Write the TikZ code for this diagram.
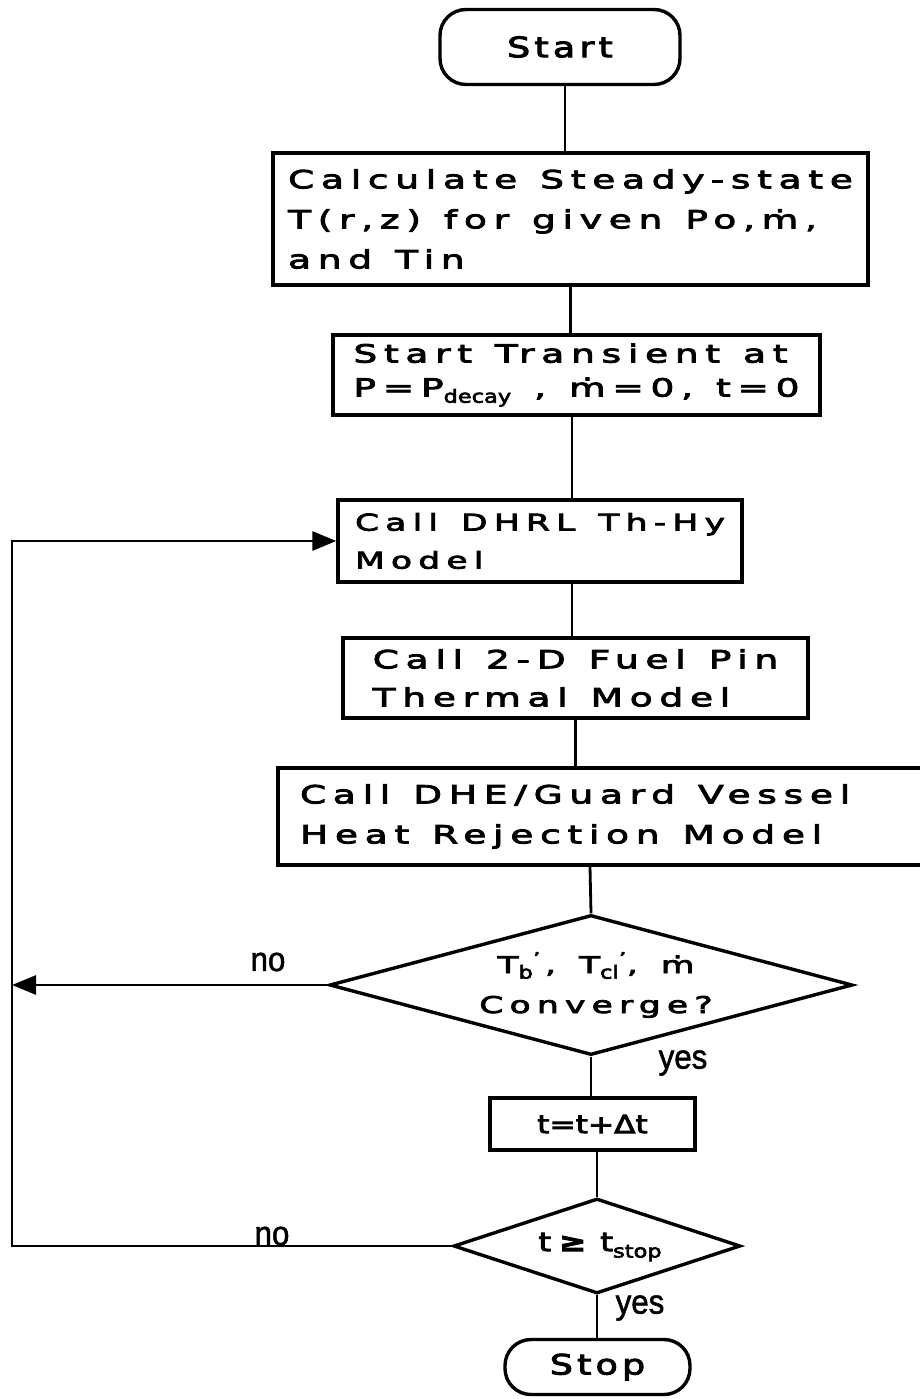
\documentclass[tikz,border=0pt]{standalone}
\usepackage{fontspec}
\setmainfont{DejaVu Sans}[FakeStretch=1.5,LetterSpace=27,FakeBold=3.5]
\newfontfamily\tightfont{DejaVu Sans}[FakeStretch=1.25,FakeBold=3.5]
\newfontfamily\termfont{DejaVu Sans}[FakeStretch=1.3,LetterSpace=15,FakeBold=3.5]
\newfontfamily\labfont{Liberation Sans}[FakeStretch=0.92,FakeBold=1.5]
\usetikzlibrary{shapes.geometric,arrows.meta}
\newcommand\lowsub[1]{\raisebox{-0.45ex}{\tightfont\fontsize{18}{18}\selectfont #1}}
\newcommand\bfont[2]{\fontsize{#1}{#2}\selectfont}
\begin{document}
\begin{tikzpicture}[x=1pt,y=-1pt,
  wsp/.style={execute at begin node={\spaceskip=23pt plus 2pt\relax}},
  box/.style={draw,line width=3.4pt,align=left,inner sep=0pt,wsp,font=\bfont{25}{40}},
  term/.style={draw,line width=3.4pt,rounded corners=26pt,inner sep=0pt,font=\termfont\fontsize{28}{30}\selectfont},
  dia/.style={draw,diamond,line width=3.4pt,inner sep=0pt},
  conn/.style={line width=2.8pt},
  arr/.style={conn,-{Triangle[length=24pt,width=19pt]}},
  lab/.style={font=\labfont\fontsize{34}{36}\selectfont},
  txt/.style={align=center,wsp,font=\bfont{23}{40}}]
\useasboundingbox (0,0) rectangle (919,1399);
\fill[white] (0,0) rectangle (919,1399);

% spine coordinates
\coordinate (s1) at (565,0);
\coordinate (s2) at (572,0);
\coordinate (s3) at (590,0);
\coordinate (lx) at (12,0);

\node[term,minimum width=240pt,minimum height=75pt] (start) at (560,47) {Start};
\node[box,minimum width=595pt,minimum height=132pt] (b1) at (570.5,219)
  {Calculate Steady-state\\T(r,z) for given Po,ṁ,\\and Tin};
\node[box,minimum width=487pt,minimum height=80pt,font=\bfont{25}{34}] (b2) at (576.5,375)
  {Start Transient at\\P=P\lowsub{decay} , ṁ=0, t=0};
\node[box,minimum width=404pt,minimum height=82pt,font=\bfont{23}{38}] (b3) at (540,541)
  {Call DHRL Th-Hy\\Model};
\node[box,minimum width=465pt,minimum height=80pt,font=\bfont{25}{38}] (b4) at (575.5,678)
  {Call 2-D Fuel Pin\\Thermal Model};
\node[box,minimum width=647pt,minimum height=97pt,inner xsep=22pt,text width=603pt,font=\bfont{25}{40}] (b5) at (601.5,816.5)
  {Call DHE/Guard Vessel\\Heat Rejection Model};
\node[dia,minimum width=523pt,minimum height=140pt] (d1) at (591,985) {};
\node[txt] (d1t) at (596,985) {T\lowsub{b}\textsuperscript{'}\hspace{4pt}, T\lowsub{cl}\textsuperscript{'}, ṁ\\Converge?};
\node[box,minimum width=205pt,minimum height=52pt,align=center,font=\tightfont\fontsize{25}{30}\selectfont] (b6) at (592.5,1124) {t=t+Δt};
\node[dia,minimum width=287pt,minimum height=95pt] (d2) at (597,1246) {};
\node[align=center,font=\tightfont\fontsize{26}{30}\selectfont] (d2t) at (600,1247) {t\hspace{8pt}\textbf{≥}\hspace{14pt}t\lowsub{stop}};
\node[term,minimum width=185pt,minimum height=55pt] (stop) at (597.5,1367) {Stop};

% main spine
\draw[conn] (s1 |- start.south) -- (s1 |- b1.north);
\draw[conn] (b1.south) -- (b1.south |- b2.north);
\draw[conn] (s2 |- b2.south) -- (s2 |- b3.north);
\draw[conn] (s2 |- b3.south) -- (s2 |- b4.north);
\draw[conn] (b4.south) -- (b4.south |- b5.north);
\draw[conn] (s3 |- b5.south) -- (d1.north);
\draw[conn] (d1.south) -- (d1.south |- b6.north);
\draw[conn] (d2.north |- b6.south) -- (d2.north);
\draw[conn] (d2.south) -- (d2.south |- stop.north);

% loops
\draw[arr] (d1.west) -- (d1.west -| lx);
\draw[arr] (d2.west) -- (d2.west -| lx) |- (b3.west);

% labels
\node[lab] (no1) at (268,962) {no};
\node[lab] (yes1) at (683,1063) {yes};
\node[lab] (no2) at (272,1236) {no};
\node[lab] (yes2) at (640,1308) {yes};
\end{tikzpicture}
\end{document}
